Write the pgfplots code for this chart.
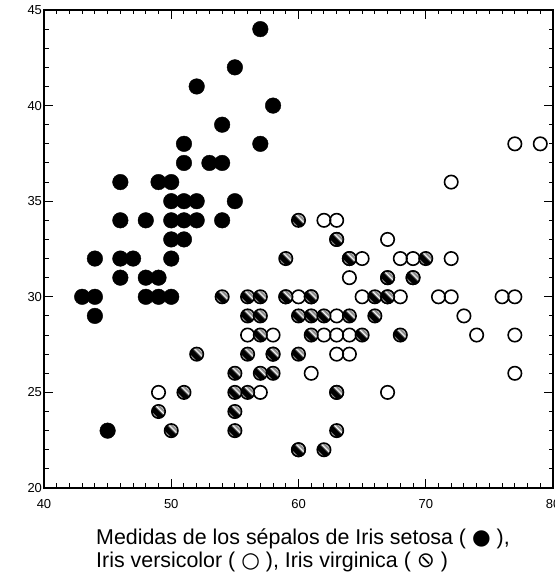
\documentclass[border=0pt]{standalone}
\usepackage{pgfplots}
\pgfplotsset{compat=1.18}
\usepackage{fontspec}
\usepackage{graphicx}
\setmainfont{Liberation Sans}
\newfontfamily\dejavu{DejaVu Sans}

% striped ball used for the third group
\pgfdeclarehorizontalshading{hatchband}{100bp}{color(0bp)=(white); color(28bp)=(white); color(34bp)=(black); color(52bp)=(black); color(58bp)=(white); color(65bp)=(black!60); color(72bp)=(white); color(100bp)=(white)}
\pgfdeclareplotmark{hatchball}{%
  \pgfpathcircle{\pgfpointorigin}{\pgfplotmarksize}%
  \pgfshadepath{hatchband}{45}%
  \pgfpathcircle{\pgfpointorigin}{\pgfplotmarksize}%
  \pgfusepathqstroke
}

\begin{document}
\begin{tikzpicture}
\begin{axis}[name=ax,
  scale only axis, width=509pt, height=478pt,
  xmin=40, xmax=80, ymin=20, ymax=45,
  xtick={40,50,...,80}, ytick={20,25,...,45},
  minor x tick num=9, minor y tick num=4,
  tick align=inside,
  major tick length=9pt, minor tick length=4.5pt,
  axis line style={line width=1.2pt},
  tick style={black, line width=1pt},
  tick label style={font=\fontsize{13}{15}\selectfont},
  /pgf/number format/assume math mode=true,
  xticklabel style={yshift=-8pt},
  yticklabel style={xshift=1.5pt},
  xlabel={Medidas de los sépalos de Iris setosa ( {\dejavu ●} ),\\Iris versicolor ( {\dejavu ○} ), Iris virginica ( \reflectbox{\dejavu ⊘} )},
  xlabel style={at={(axis description cs:0,0)}, anchor=north west, xshift=52pt, yshift=-41pt,
    inner sep=0pt, align=left, font=\fontsize{21.4}{23}\selectfont},
  clip=false,
]
% filled
\addplot[only marks, mark=*, mark size=7.8pt, mark options={draw=black, fill=black}] table {
x y
57 44
55 42
52 41
58 40
54 39
51 38
57 38
51 37
53 37
54 37
46 36
49 36
50 36
50 35
51 35
52 35
55 35
46 34
48 34
50 34
51 34
52 34
54 34
50 33
51 33
44 32
46 32
47 32
50 32
46 31
48 31
49 31
43 30
44 30
48 30
49 30
50 30
44 29
45 23
};
% open
\addplot[only marks, mark=o, mark size=6.7pt, mark options={draw=black, fill=white, line width=1.6pt}] table {
x y
63 33
58 27
71 30
63 29
65 30
76 30
49 25
73 29
67 25
72 36
65 32
64 27
68 30
57 25
58 28
64 32
77 38
77 26
60 22
69 32
56 28
77 28
63 27
67 33
72 32
62 28
61 30
64 28
72 30
74 28
79 38
63 28
61 26
77 30
63 34
64 31
60 30
69 31
67 31
68 32
67 30
63 25
62 34
59 30
};
% striped
\addplot[only marks, mark=hatchball, mark size=6.7pt, mark options={draw=black, line width=1.6pt}] table {
x y
70 32
64 32
69 31
55 23
65 28
57 28
63 33
49 24
66 29
52 27
59 30
60 22
61 29
56 29
67 31
56 30
58 27
62 22
56 25
59 32
61 28
63 25
64 29
66 30
68 28
67 30
60 29
57 26
55 24
60 27
54 30
60 34
63 23
55 25
55 26
61 30
58 26
50 23
56 27
57 30
57 29
62 29
51 25
};
\end{axis}
\pgfresetboundingbox
\path[use as bounding box] ([xshift=-44pt,yshift=-87pt]ax.south west) rectangle ([xshift=1pt,yshift=10pt]ax.north east);
\end{tikzpicture}
\end{document}
